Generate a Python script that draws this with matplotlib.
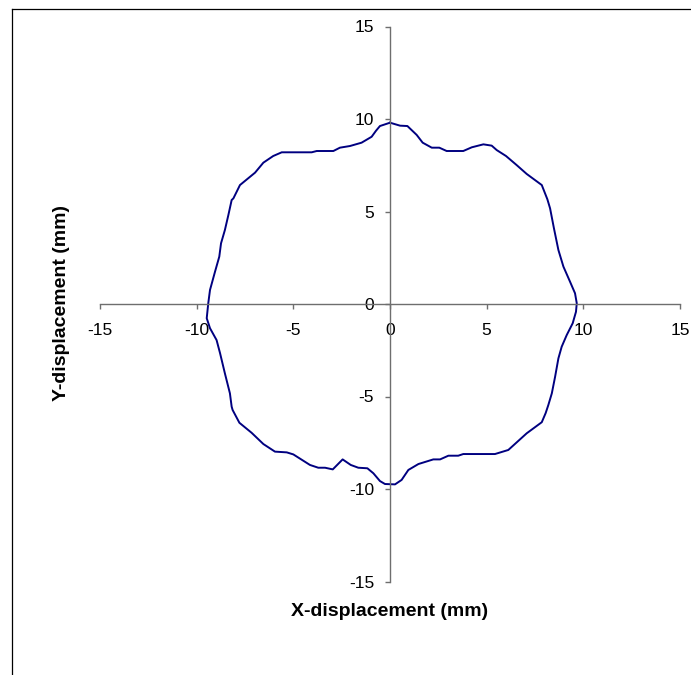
import matplotlib
matplotlib.use("Agg")
import matplotlib.pyplot as plt
from matplotlib.lines import Line2D

# Closed trajectory, traced clockwise from the top (mm)
x_disp = [0.0, 0.52, 0.9, 1.38, 1.69, 2.16, 2.55, 2.93, 3.79, 4.23, 4.83, 5.26,
          5.52, 6.0, 6.55, 7.07, 7.85, 8.14, 8.28, 8.48, 8.71, 8.97, 9.31, 9.57,
          9.66, 9.62, 9.45, 9.14, 8.88, 8.71, 8.54, 8.37, 8.19, 8.05, 7.85, 7.07,
          6.12, 5.43, 3.79, 3.53, 3.02, 2.59, 2.24, 1.47, 0.95, 0.6, 0.26, -0.26,
          -0.52, -0.86, -1.17, -1.64, -2.03, -2.45, -2.96, -3.36, -3.71, -4.14,
          -5.0, -5.34, -5.95, -6.55, -7.16, -7.79, -8.14, -8.19, -8.28, -8.54,
          -8.79, -8.97, -9.31, -9.48, -9.4, -9.31, -9.05, -8.83, -8.74, -8.54,
          -8.36, -8.19, -8.1, -7.76, -6.98, -6.55, -6.04, -5.6, -4.05, -3.79,
          -2.93, -2.59, -2.07, -1.47, -0.95, -0.72, -0.52, 0.0]
y_disp = [9.8, 9.64, 9.62, 9.14, 8.72, 8.45, 8.45, 8.27, 8.27, 8.47, 8.63, 8.56,
          8.32, 8.0, 7.51, 7.03, 6.43, 5.66, 5.17, 4.09, 2.92, 2.02, 1.21, 0.58,
          0.04, -0.42, -1.04, -1.68, -2.31, -2.94, -3.93, -4.83, -5.46, -5.9,
          -6.39, -6.99, -7.89, -8.11, -8.11, -8.2, -8.2, -8.4, -8.4, -8.65, -8.97,
          -9.51, -9.75, -9.73, -9.57, -9.15, -8.88, -8.85, -8.7, -8.4, -8.94,
          -8.85, -8.85, -8.7, -8.13, -8.02, -7.98, -7.57, -6.96, -6.42, -5.73,
          -5.55, -4.83, -3.75, -2.66, -1.95, -1.31, -0.77, 0.04, 0.76, 1.75, 2.56,
          3.28, 4.0, 4.81, 5.62, 5.71, 6.43, 7.1, 7.64, 8.0, 8.2, 8.2, 8.27, 8.27,
          8.45, 8.54, 8.72, 9.04, 9.37, 9.62, 9.8]

ticks = [-15, -10, -5, 0, 5, 10, 15]

plt.rcParams['font.family'] = ['Liberation Sans', 'DejaVu Sans']
plt.rcParams['axes.unicode_minus'] = False

W, H = 691, 675
fig = plt.figure(figsize=(W / 100, H / 100), dpi=100)
ax = fig.add_axes([100 / W, 1 - 581.5 / H, 580 / W, 555 / H])

ax.plot(x_disp, y_disp, color='#000080', lw=1.4, solid_joinstyle='round')

ax.set_xlim(-15, 15)
ax.set_ylim(-15, 15)
ax.set_xticks(ticks)
ax.set_yticks(ticks)

axis_color = '#6e6e6e'
for side in ('top', 'right'):
    ax.spines[side].set_visible(False)
ax.spines['left'].set_position(('data', 0))
ax.spines['bottom'].set_position(('data', 0))
for side in ('left', 'bottom'):
    ax.spines[side].set_color(axis_color)
    ax.spines[side].set_linewidth(1.0)

ax.tick_params(axis='both', direction='out', length=3.5, width=1.0,
               color=axis_color, labelsize=12.5, labelcolor='black')
ax.tick_params(axis='y', pad=8)
ax.tick_params(axis='x', pad=10)

fig.text(390 / W, 1 - 612 / H, 'X-displacement (mm)', ha='center', va='center',
         fontsize=14, fontweight='bold')
fig.text(62 / W, 1 - 303 / H, 'Y-displacement (mm)', ha='center', va='center',
         rotation=90, fontsize=14, fontweight='bold')

# Chart-area border along the top and left edges
fig.add_artist(Line2D([11.5 / W, 11.5 / W], [0, 1 - 9 / H],
                      transform=fig.transFigure, color='black', lw=0.9))
fig.add_artist(Line2D([11.5 / W, 1], [1 - 9 / H, 1 - 9 / H],
                      transform=fig.transFigure, color='black', lw=0.9))

fig.savefig('out.png', dpi=100)
